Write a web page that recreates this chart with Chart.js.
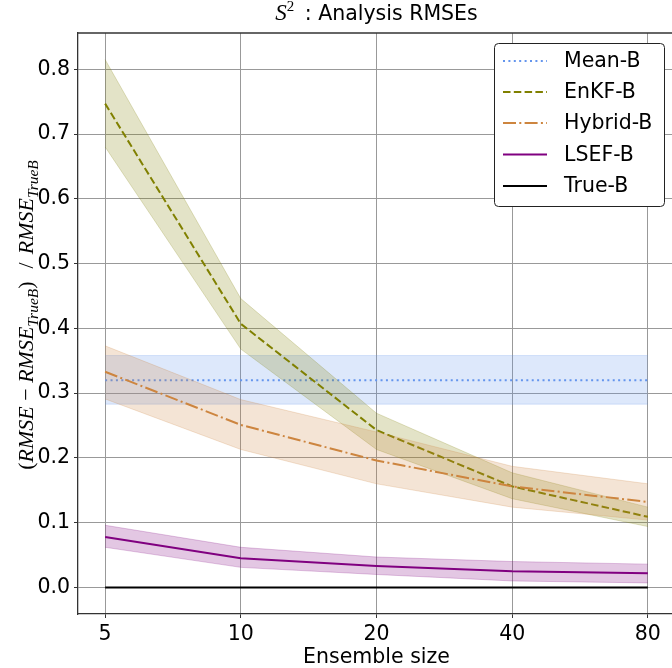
<!DOCTYPE html>
<html>
<head>
<meta charset="utf-8">
<script src="https://cdn.jsdelivr.net/npm/chart.js@4.4.1/dist/chart.umd.min.js"></script>
<style>
  html, body { margin: 0; padding: 0; overflow: hidden; background: #fff; }
</style>
</head>
<body>
<canvas id="chart" width="680" height="668"></canvas>
<script>
// ---- data ----
const ensembleSizes = [5, 10, 20, 40, 80];
const yTickValues = [0.0, 0.1, 0.2, 0.3, 0.4, 0.5, 0.6, 0.7, 0.8];

const meanB    = [0.320, 0.320, 0.320, 0.320, 0.320];
const meanBLo  = [0.283, 0.283, 0.283, 0.283, 0.283];
const meanBHi  = [0.358, 0.358, 0.358, 0.358, 0.358];

const enkfB    = [0.747, 0.407, 0.243, 0.156, 0.109];
const enkfBLo  = [0.680, 0.368, 0.213, 0.137, 0.094];
const enkfBHi  = [0.815, 0.446, 0.269, 0.177, 0.124];

const hybridB   = [0.333, 0.251, 0.196, 0.156, 0.132];
const hybridBLo = [0.291, 0.213, 0.160, 0.124, 0.104];
const hybridBHi = [0.373, 0.290, 0.240, 0.187, 0.160];

const lsefB    = [0.078, 0.045, 0.033, 0.025, 0.022];
const lsefBLo  = [0.062, 0.031, 0.020, 0.010, 0.007];
const lsefBHi  = [0.096, 0.062, 0.047, 0.040, 0.036];

const trueB    = [0, 0, 0, 0, 0];

const series = [
  { label: 'Mean-B',   line: meanB,   lo: meanBLo,   hi: meanBHi,   color: '#6495ED', band: 'rgba(100,149,237,0.22)', dash: [2, 3.4] },
  { label: 'EnKF-B',   line: enkfB,   lo: enkfBLo,   hi: enkfBHi,   color: '#808000', band: 'rgba(128,128,0,0.22)',   dash: [7.5, 3.3] },
  { label: 'Hybrid-B', line: hybridB, lo: hybridBLo, hi: hybridBHi, color: '#CD853F', band: 'rgba(205,133,63,0.22)',  dash: [13, 3.3, 2, 3.3] },
  { label: 'LSEF-B',   line: lsefB,   lo: lsefBLo,   hi: lsefBHi,   color: '#800080', band: 'rgba(128,0,128,0.22)',   dash: [] },
  { label: 'True-B',   line: trueB,   lo: null,      hi: null,      color: '#000000', band: null,                      dash: [] }
];

const toPts = arr => arr.map((v, i) => ({ x: ensembleSizes[i], y: v }));

const datasets = [];
series.forEach(s => {
  if (s.lo) {
    const loIdx = datasets.length;
    datasets.push({ data: toPts(s.lo), borderColor: s.band, backgroundColor: s.band, borderWidth: 1, pointRadius: 0, fill: false });
    datasets.push({ data: toPts(s.hi), borderColor: s.band, backgroundColor: s.band, borderWidth: 1, pointRadius: 0, fill: loIdx });
  }
  datasets.push({ label: s.label, data: toPts(s.line), borderColor: s.color, borderWidth: 2, borderDash: s.dash, pointRadius: 0, fill: false });
});
// later datasets on top, like matplotlib
datasets.forEach((d, i) => { d.order = datasets.length - i; });

// ---- rich text helper (subscripts / superscripts) ----
function drawParts(ctx, parts, cx, baseline) {
  let total = 0;
  parts.forEach(p => {
    if (p.gap) { total += p.gap; return; }
    ctx.font = p.f;
    p.w = ctx.measureText(p.t).width;
    total += p.w;
  });
  let x = cx - total / 2;
  ctx.textAlign = 'left';
  ctx.textBaseline = 'alphabetic';
  parts.forEach(p => {
    if (p.gap) { x += p.gap; return; }
    ctx.font = p.f;
    ctx.fillText(p.t, x, baseline + (p.dy || 0));
    x += p.w;
  });
}

const serif = '22px "Liberation Serif"';
const serifIt = 'italic 22px "Liberation Serif"';
const serifSub = 'italic 15.5px "Liberation Serif"';
const sans = '20.5px "DejaVu Sans"';

const decorations = {
  id: 'decorations',
  afterDraw(chart) {
    const { ctx, chartArea: a } = chart;
    ctx.save();
    // top spine
    ctx.strokeStyle = '#333';
    ctx.lineWidth = 1.3;
    ctx.beginPath();
    ctx.moveTo(a.left, a.top);
    ctx.lineTo(a.right, a.top);
    ctx.stroke();

    ctx.fillStyle = '#000';
    // title
    drawParts(ctx, [
      { t: 'S', f: 'italic 23px "Liberation Serif"' },
      { t: '2', f: '15px "Liberation Serif"', dy: -9 },
      { gap: 4 },
      { t: ' : Analysis RMSEs', f: sans }
    ], (a.left + a.right) / 2, 20);

    // x label
    drawParts(ctx, [{ t: 'Ensemble size', f: sans }], (a.left + a.right) / 2, 663);

    // y label, rotated
    ctx.save();
    ctx.translate(33, 315);
    ctx.rotate(-Math.PI / 2);
    drawParts(ctx, [
      { t: '(', f: serif },
      { t: 'RMSE', f: serifIt },
      { t: ' \u2212 ', f: serif },
      { t: 'RMSE', f: serifIt },
      { t: 'TrueB', f: serifSub, dy: 5 },
      { t: ')', f: serif },
      { gap: 13 },
      { t: '/', f: serif },
      { gap: 8 },
      { t: 'RMSE', f: serifIt },
      { t: 'TrueB', f: serifSub, dy: 5 }
    ], 0, 0);
    ctx.restore();

    // legend
    const bx = 494, by = 43, bw = 170, bh = 163;
    ctx.fillStyle = '#fff';
    ctx.strokeStyle = '#222';
    ctx.lineWidth = 1;
    ctx.setLineDash([]);
    ctx.beginPath();
    ctx.roundRect(bx + 0.5, by + 0.5, bw, bh, 4);
    ctx.fill();
    ctx.stroke();
    const rowY = [61, 92, 123, 154.5, 186];
    series.forEach((s, i) => {
      ctx.strokeStyle = s.color;
      ctx.lineWidth = 2;
      ctx.setLineDash(s.dash);
      ctx.beginPath();
      ctx.moveTo(503, rowY[i]);
      ctx.lineTo(547, rowY[i]);
      ctx.stroke();
      ctx.setLineDash([]);
      ctx.fillStyle = '#000';
      ctx.font = sans;
      ctx.textAlign = 'left';
      ctx.textBaseline = 'middle';
      ctx.fillText(s.label, 564, rowY[i] + 1);
    });
    ctx.restore();
  }
};

new Chart(document.getElementById('chart'), {
  type: 'line',
  data: { datasets },
  options: {
    responsive: false,
    animation: false,
    devicePixelRatio: 1,
    layout: { padding: { top: 33, right: 5, left: 0, bottom: 0 } },
    plugins: {
      legend: { display: false },
      tooltip: { enabled: false },
      filler: { propagate: false }
    },
    scales: {
      x: {
        type: 'logarithmic',
        min: 4.353,
        max: 91.9,
        afterFit: s => { s.height = 54; },
        afterBuildTicks: s => { s.ticks = ensembleSizes.map(v => ({ value: v })); },
        grid: { color: '#999', lineWidth: 1, tickLength: 4, tickColor: '#333' },
        border: { color: '#333', width: 1.3 },
        ticks: {
          autoSkip: false, maxRotation: 0, padding: 4,
          color: '#000', font: { family: 'DejaVu Sans', size: 20.5 },
          callback: v => String(v)
        }
      },
      y: {
        type: 'linear',
        min: -0.041,
        max: 0.856,
        afterFit: s => { s.width = 78; },
        afterBuildTicks: s => { s.ticks = yTickValues.map(v => ({ value: v })); },
        grid: { color: '#999', lineWidth: 1, tickLength: 4, tickColor: '#333' },
        border: { color: '#333', width: 1.3 },
        ticks: {
          padding: 4,
          color: '#000', font: { family: 'DejaVu Sans', size: 20.5 },
          callback: v => v.toFixed(1)
        }
      }
    }
  },
  plugins: [decorations]
});
</script>
</body>
</html>
